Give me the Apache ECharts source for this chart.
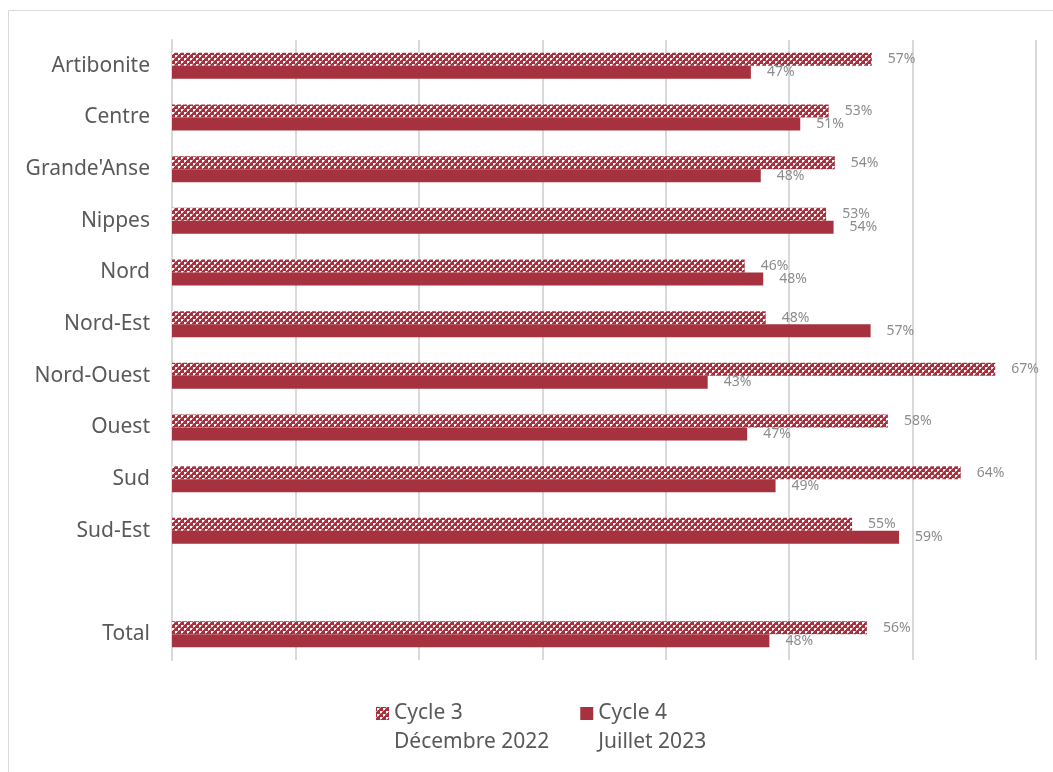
<!DOCTYPE html>
<html><head><meta charset="utf-8">
<script src="https://cdn.jsdelivr.net/npm/echarts@6/dist/echarts.min.js"></script>
<style>html,body{margin:0;padding:0;background:#fff}#c{width:1053px;height:772px}</style>
</head><body><div id="c"></div>
<script>
const categories = ['Artibonite','Centre',"Grande'Anse",'Nippes','Nord','Nord-Est','Nord-Ouest','Ouest','Sud','Sud-Est','','Total'];
const cycle3 = [56.7,53.2,53.7,53.0,46.4,48.1,66.7,58.0,63.9,55.1,null,56.3];
const cycle4 = [46.9,50.9,47.7,53.6,47.9,56.6,43.4,46.6,48.9,58.9,null,48.4];
const seriesNames = ['Cycle 3\nDécembre 2022','Cycle 4\nJuillet 2023'];
const xTicks = [0,10,20,30,40,50,60,70];

const RED = '#a5323e';
function makePattern(){
  const c = document.createElement('canvas');
  c.width = 6; c.height = 6;
  const g = c.getContext('2d');
  g.fillStyle = RED; g.fillRect(0,0,6,6);
  g.fillStyle = '#ffffff';
  g.fillRect(1,1,2,2); g.fillRect(4,4,2,2);
  g.fillStyle = '#dba6ac';
  [[0,4],[4,0],[3,1],[1,3]].forEach(p=>g.fillRect(p[0],p[1],1,1));
  return c;
}
const pattern = {image: makePattern(), repeat: 'repeat'};

const chart = echarts.init(document.getElementById('c'), null, {renderer:'canvas'});
const labelStyle = {
  show: true, position: 'right', distance: 16,
  color: '#8c8c8c', fontSize: 14, fontFamily: 'Noto Sans',
  formatter: p => Math.round(p.value) + '%'
};
chart.setOption({
  animation: false,
  graphic: [{type:'rect', shape:{x:8.5,y:10.5,width:1100,height:800}, style:{fill:'none', stroke:'#d9d9d9', lineWidth:1}, silent:true}],
  grid: {left:172, right:17, top:40, bottom:112, containLabel:false},
  xAxis: {
    type:'value', min: xTicks[0], max: xTicks[xTicks.length-1], interval: 10,
    axisLabel:{show:false}, axisLine:{show:false}, axisTick:{show:false},
    splitLine:{show:true, lineStyle:{color:'#d9d9d9', width:2}}
  },
  yAxis: {
    type:'category', data: categories, inverse: true,
    axisLine:{show:true, lineStyle:{color:'#d9d9d9', width:2}},
    axisTick:{show:false},
    axisLabel:{color:'#595959', fontSize:21, fontFamily:'Noto Sans', margin:22}
  },
  legend: {
    left: 371, top: 665, itemWidth: 13, itemHeight: 13, itemGap: 31,
    icon: 'rect',
    formatter: name => ' \n' + name,
    textStyle: {color:'#595959', fontSize:21, fontFamily:'Noto Sans', lineHeight:29},
    data: seriesNames
  },
  series: [
    {name: seriesNames[0], type:'bar', data: cycle3, barWidth:13, barGap:'0%',
     itemStyle:{color: pattern}, label: labelStyle},
    {name: seriesNames[1], type:'bar', data: cycle4, barWidth:13, barGap:'0%',
     itemStyle:{color: RED}, label: labelStyle}
  ]
});
</script></body></html>
